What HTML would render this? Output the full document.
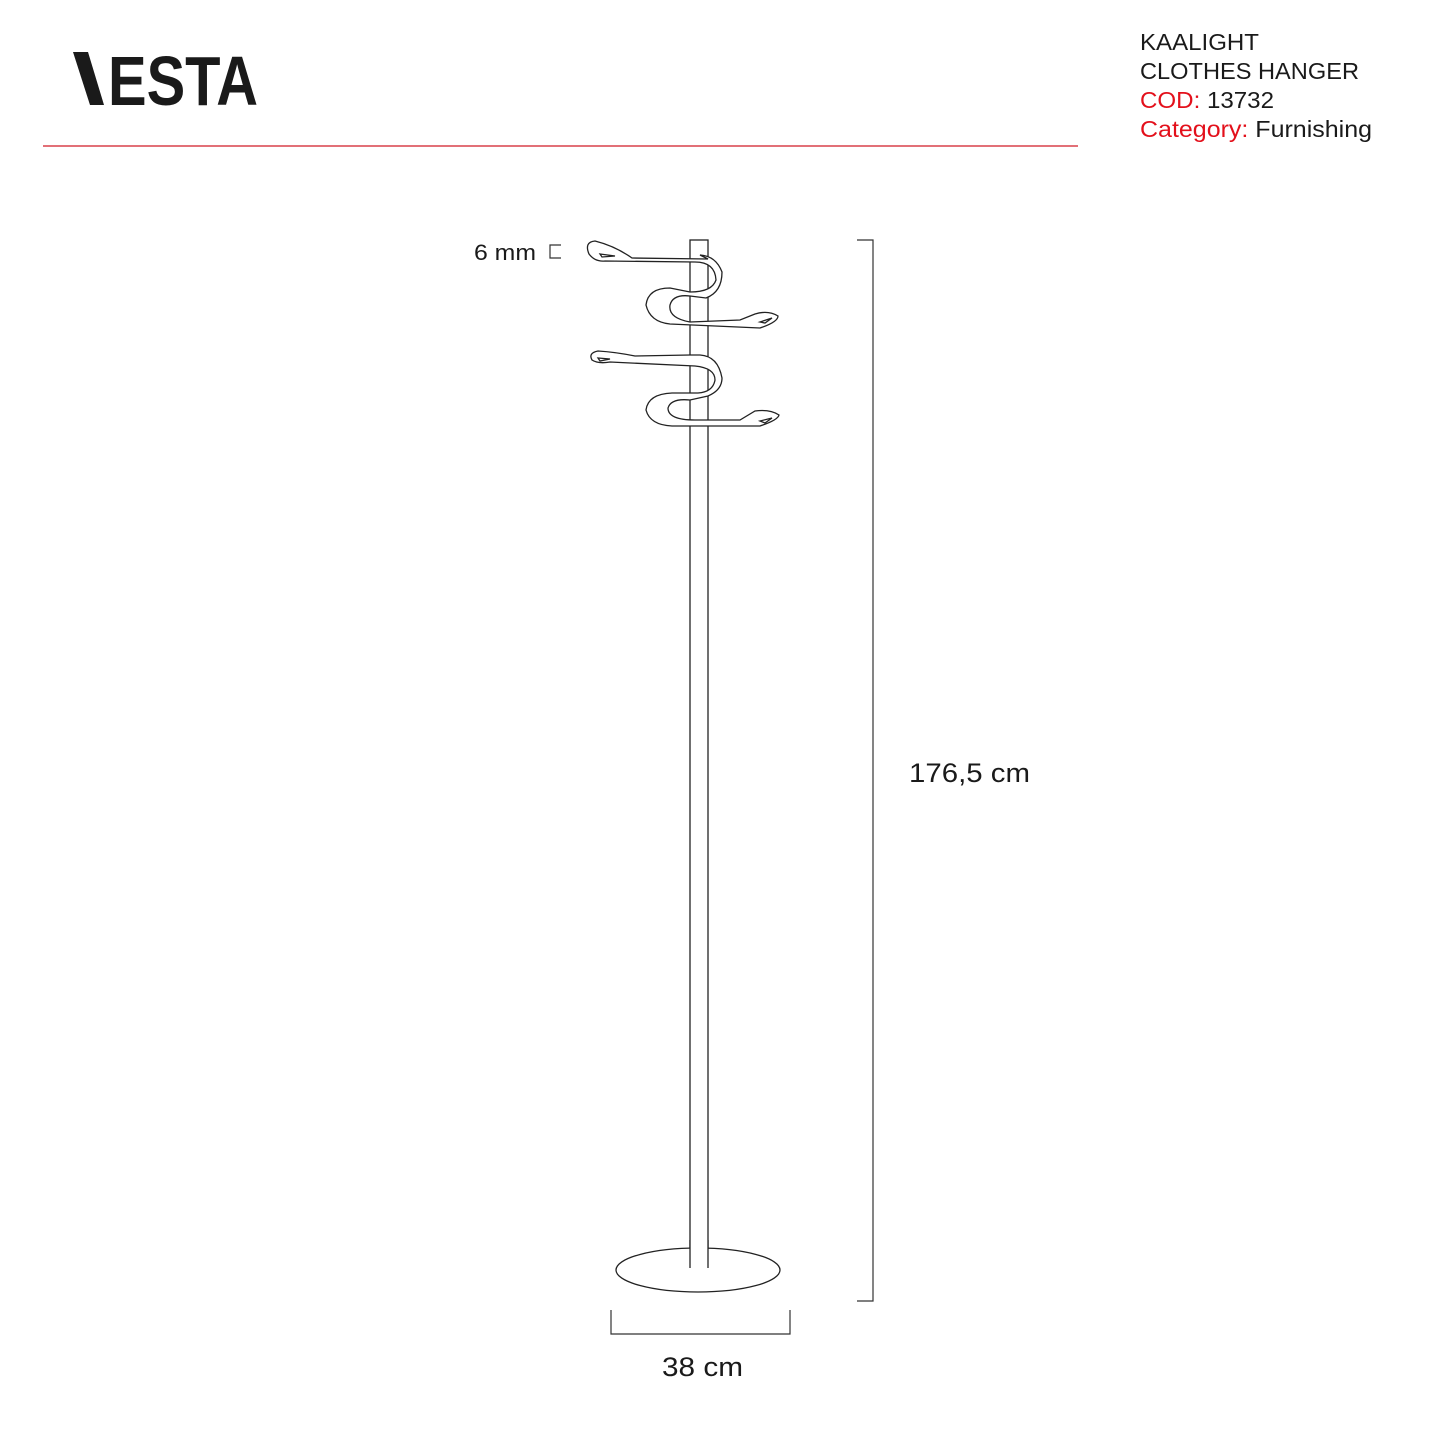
<!DOCTYPE html>
<html><head><meta charset="utf-8"><style>
body{margin:0;background:#fff;width:1445px;height:1445px;overflow:hidden;font-family:"Liberation Sans",sans-serif}
</style></head><body>
<svg width="1445" height="1445" viewBox="0 0 1445 1445" xmlns="http://www.w3.org/2000/svg" font-family="Liberation Sans, sans-serif">
<polygon points="73,52 88,52 104,105 90,105" fill="#1a1a1a"/>
<text x="108" y="105" font-size="70" font-weight="bold" fill="#1a1a1a" textLength="150" lengthAdjust="spacingAndGlyphs">ESTA</text>
<line x1="43" y1="146" x2="1078" y2="146" stroke="#d8414a" stroke-width="1.5"/>
<g font-size="23.5" fill="#1a1a1a">
<text x="1140" y="50" textLength="119" lengthAdjust="spacingAndGlyphs">KAALIGHT</text>
<text x="1140" y="79" textLength="219" lengthAdjust="spacingAndGlyphs">CLOTHES HANGER</text>
<text x="1140" y="108" textLength="134" lengthAdjust="spacingAndGlyphs"><tspan fill="#e3101b">COD:</tspan> 13732</text>
<text x="1140" y="137" textLength="232" lengthAdjust="spacingAndGlyphs"><tspan fill="#e3101b">Category:</tspan> Furnishing</text>
</g>
<g fill="none" stroke="#222" stroke-width="1.3">
<rect x="690" y="240" width="18" height="1028" fill="#fff"/>
<ellipse cx="698" cy="1270" rx="82" ry="22" fill="#fff"/>
<rect x="690" y="1240" width="18" height="28" fill="#fff" stroke="none"/>
<line x1="690" y1="1240" x2="690" y2="1268"/><line x1="708" y1="1240" x2="708" y2="1268"/>
<path d="M708,259 L632,258 Q615,246 595,241 Q584,242 589,254 Q595,262 605,261 L695,262 Q715,262 716,280 Q712,292 690,292 L670,288 Q648,288 646,305 Q650,322 670,324 L760,328 Q778,322 778,316 Q768,310 755,314 L740,320 L690,322 Q668,318 670,305 Q673,294 690,296 L706,298 Q722,292 722,272 Q716,256 700,255 Z" fill="#fff"/>
<path d="M600,254 L615,256 L602,257 Z"/>
<path d="M760,322 L772,318 L765,323 Z"/>
<path d="M690,355 L635,356 Q615,352 598,351 Q588,353 592,360 Q598,364 610,362 L695,366 Q715,368 715,380 Q713,392 698,393 L672,393 Q648,394 646,410 Q650,425 672,426 L760,426 Q778,420 779,415 Q770,409 755,411 L740,420 L695,420 Q668,420 668,408 Q671,398 690,400 L708,396 Q722,390 722,378 Q718,356 700,355 Z" fill="#fff"/>
<path d="M598,358 L610,359 L600,361 Z"/>
<path d="M760,421 L772,418 L765,423 Z"/>
</g>
<g stroke="#333" stroke-width="1.2" fill="none">
<polyline points="857,240 873,240 873,1301 857,1301"/>
<polyline points="611,1310 611,1334 790,1334 790,1310"/>
<polyline points="561,245 550,245 550,258 561,258"/>
</g>
<text x="909" y="782" font-size="27" fill="#1a1a1a" textLength="121" lengthAdjust="spacingAndGlyphs">176,5 cm</text>
<text x="662" y="1376" font-size="27" fill="#1a1a1a" textLength="81" lengthAdjust="spacingAndGlyphs">38 cm</text>
<text x="474" y="260" font-size="22" fill="#1a1a1a" textLength="62" lengthAdjust="spacingAndGlyphs">6 mm</text>
</svg>
</body></html>
